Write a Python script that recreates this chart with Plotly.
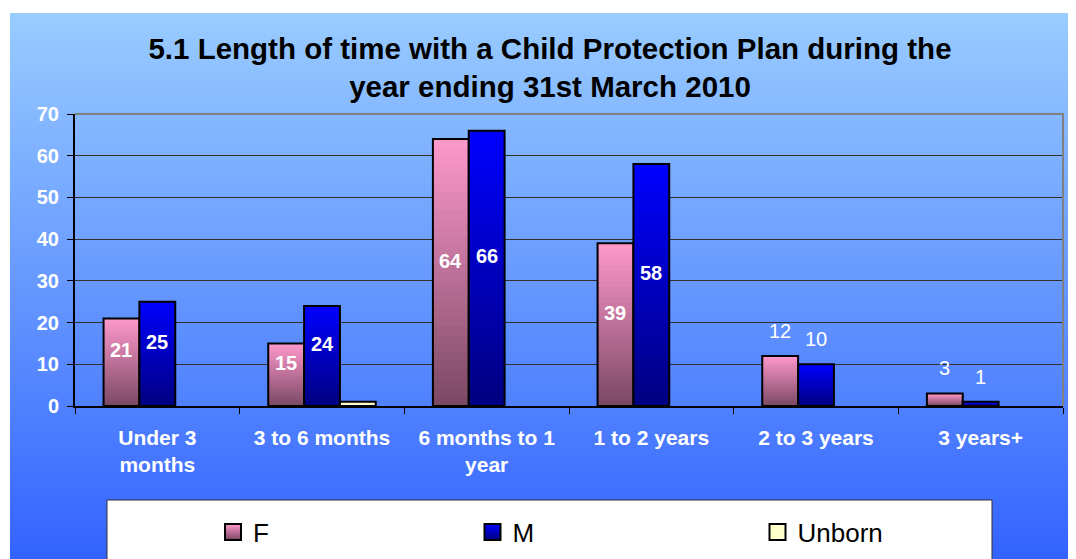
import base64
import plotly.graph_objects as go

# data
categories = ["Under 3<br>months", "3 to 6 months", "6 months to 1<br>year",
              "1 to 2 years", "2 to 3 years", "3 years+"]
female = [21, 15, 64, 39, 12, 3]
male = [25, 24, 66, 58, 10, 1]
unborn = [0, 1, 0, 0, 0, 0]

FONT = "Liberation Sans, Arial, sans-serif"
BARGAP = 0.347
N_STEPS = 30  # slices used to fake the per-bar vertical gradient


def hex_rgb(h):
    h = h.lstrip("#")
    return tuple(int(h[i:i + 2], 16) for i in (0, 2, 4))


def mix(c0, c1, t):
    a, b = hex_rgb(c0), hex_rgb(c1)
    return "rgb(%d,%d,%d)" % tuple(round(a[i] + (b[i] - a[i]) * t) for i in range(3))


fig = go.Figure()

# gradient bars: each slice runs from its own base up to the bar top,
# later (lighter) slices are drawn over the earlier ones
series = [
    ("F", female, "#7A4863", "#FF99CC"),
    ("M", male, "#000080", "#0000FF"),
]
for name, vals, bottom, top in series:
    for k in range(N_STEPS):
        base = [v * k / N_STEPS for v in vals]
        fig.add_trace(go.Bar(
            x=categories, y=[v - b for v, b in zip(vals, base)], base=base,
            offsetgroup=name, marker=dict(color=mix(bottom, top, (k + 0.5) / N_STEPS), line=dict(width=0)),
            showlegend=False, hoverinfo="skip"))
    # black outline on top
    fig.add_trace(go.Bar(
        x=categories, y=vals, offsetgroup=name, name=name,
        marker=dict(color="rgba(0,0,0,0)", line=dict(color="black", width=2)),
        showlegend=False))

fig.add_trace(go.Bar(
    x=categories, y=[v if v else None for v in unborn], offsetgroup="U", name="Unborn",
    marker=dict(color="#FFFFCC", line=dict(color="black", width=2)), showlegend=False))

# legend entries (square markers so the swatch can be bigger)
legend_items = [
    ("F", "#FF99CC", "#7A4863", "legend"),
    ("M", "#0000FF", "#000080", "legend2"),
    ("Unborn", "#FFFFCC", "#FFFFCC", "legend3"),
]
for name, top, bottom, leg in legend_items:
    fig.add_trace(go.Scatter(
        x=[categories[0]], y=[None], mode="markers", name=name, legend=leg,
        marker=dict(symbol="square", size=16, color=top,
                    gradient=dict(type="vertical", color=bottom),
                    line=dict(color="black", width=2))))

# value labels
slot = (1 - BARGAP) / 3
annotations = []
for j, vals in enumerate([female, male]):
    for i, v in enumerate(vals):
        inside = v > 12
        annotations.append(dict(
            x=i + (j - 1) * slot, y=v / 2 if inside else v, xref="x", yref="y",
            text=str(v), showarrow=False, yshift=12 if inside else 25,
            font=dict(family=FONT, size=20, color="white", weight="bold" if inside else "normal")))

# light-to-dark blue backdrop as an svg gradient
svg = ("<svg xmlns='http://www.w3.org/2000/svg' width='1066' height='546' preserveAspectRatio='none'>"
       "<defs><linearGradient id='g' x1='0' y1='0' x2='0' y2='1'>"
       "<stop offset='0' stop-color='#99CCFF'/><stop offset='1' stop-color='#3363FF'/>"
       "</linearGradient></defs><rect width='1066' height='546' fill='url(#g)'/></svg>")
src = "data:image/svg+xml;base64," + base64.b64encode(svg.encode()).decode()

# the page body has an 8px margin, so the figure is a little smaller than the window
OFF = 8
W, H = 1076 - OFF, 559 - OFF
L, R, T, B = 75 - OFF, 13, 114 - OFF, 153
pw, ph = W - L - R, H - T - B


def px_x(p):
    # screen pixel -> paper fraction
    return (p - OFF - L) / pw


def px_y(p):
    return (H - B - (p - OFF)) / ph


fig.update_layout(
    width=W, height=H,
    margin=dict(l=L, r=R, t=T, b=B, autoexpand=False),
    paper_bgcolor="white", plot_bgcolor="#C0C0C0",
    barmode="group", bargap=BARGAP,
    font=dict(family=FONT),
    title=dict(text="5.1 Length of time with a Child Protection Plan during the<br>year ending 31st March 2010",
               x=(550 - OFF) / W, xanchor="center", y=1 - 51 / H, yanchor="top",
               font=dict(size=29.5, color="black", weight="bold")),
    annotations=annotations,
    images=[dict(source=src, xref="paper", yref="paper", x=px_x(10), y=px_y(13),
                 sizex=(1076 - 10) / pw, sizey=(559 - 13) / ph, sizing="stretch", layer="below")],
    shapes=[
        dict(type="path", xref="paper", yref="paper", path="M 0,1 L 1,1 L 1,0",
             line=dict(color="#808080", width=2)),
        dict(type="rect", xref="paper", yref="paper", x0=px_x(107), x1=px_x(992),
             y0=px_y(500), y1=px_y(575), fillcolor="white", line=dict(color="#303030", width=1),
             layer="above"),
    ],
    showlegend=True,
)

for leg, xpx in [("legend", 205), ("legend2", 464.5), ("legend3", 749.5)]:
    fig.update_layout({leg: dict(xref="container", yref="container", x=xpx / W, y=1 - 524 / H,
                                 xanchor="left", yanchor="middle", bgcolor="rgba(0,0,0,0)",
                                 borderwidth=0, font=dict(size=26, color="black", family=FONT))})

fig.update_xaxes(
    showline=True, linecolor="black", linewidth=1.5,
    ticks="outside", tickson="boundaries", ticklen=6, tickcolor="black", ticklabelstandoff=12,
    tickfont=dict(size=21, color="white", weight="bold"), tickangle=0,
    showgrid=False, fixedrange=True)
fig.update_yaxes(
    range=[0, 70], dtick=10, showline=True, linecolor="black", linewidth=2,
    ticks="outside", ticklen=6, tickcolor="black", ticklabelstandoff=4,
    tickfont=dict(size=20, color="white", weight="bold"),
    showgrid=True, gridcolor="#303030", gridwidth=1, zeroline=False, fixedrange=True)

fig.write_html("out.html")
